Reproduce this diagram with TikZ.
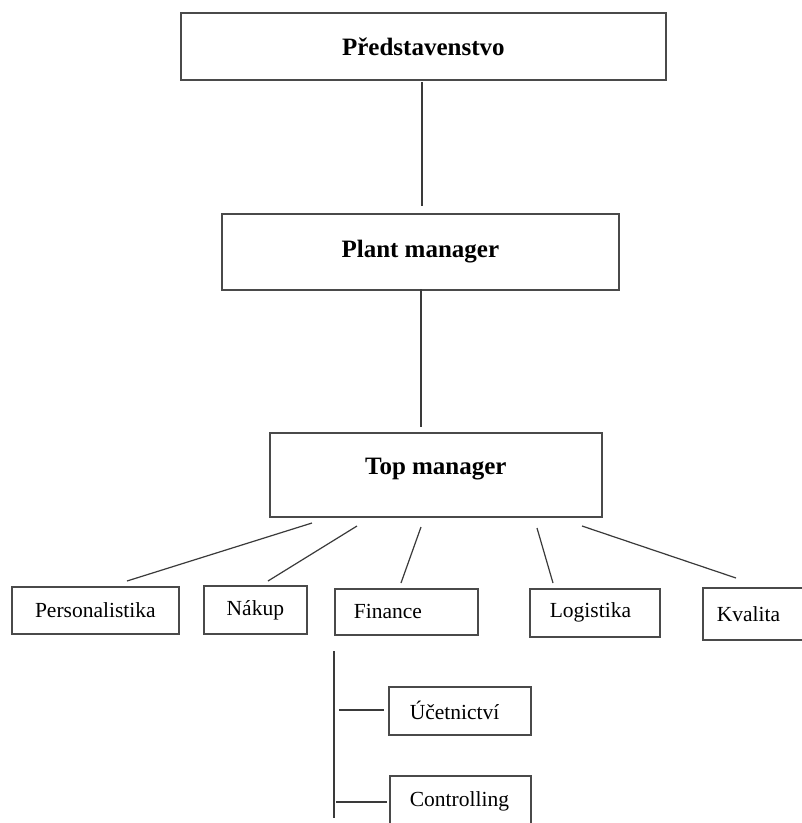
\documentclass[tikz,border=0pt]{standalone}
\usepackage{fontspec}
\setmainfont{Liberation Serif}
\definecolor{boxc}{HTML}{4A4A4A}
\definecolor{linec}{HTML}{3A3A3A}
\tikzset{
  box/.style={draw=boxc, line width=1.7pt, rectangle, inner sep=0pt, anchor=north west, text=black},
  bigtxt/.style={font=\fontsize{25}{30}\selectfont\bfseries},
  smalltxt/.style={font=\fontsize{21.5}{26}\selectfont},
  conn/.style={draw=linec, line width=1.2pt}
}
\begin{document}
\begin{tikzpicture}[x=1pt,y=-1pt]
\useasboundingbox[fill=white] (0,0) rectangle (802,823);
% top boxes
\node[box,bigtxt,minimum width=485pt,minimum height=67pt] (pred) at (180,12) {Představenstvo};
\node[box,bigtxt,minimum width=397pt,minimum height=76pt] (plant) at (221,213) {Plant manager};
\node[box,bigtxt,minimum width=332pt,minimum height=84pt,text depth=18pt] (top) at (269,432) {Top manager};
% second level
\node[box,smalltxt,minimum width=167pt,minimum height=47pt] (pers) at (11,586) {Personalistika};
\node[box,smalltxt,minimum width=103pt,minimum height=48pt] (nak) at (203,585) {Nákup};
\node[box,smalltxt,inner xsep=19pt,text width=105pt,align=left,minimum height=46pt] (fin) at (334,588) {Finance};
\node[box,smalltxt,inner xsep=20pt,text width=90pt,align=left,minimum height=48pt] (log) at (529,588) {Logistika};
\node[box,smalltxt,inner xsep=14pt,text width=76pt,align=left,minimum height=52pt] (kval) at (702,587) {Kvalita};
% third level
\node[box,smalltxt,inner xsep=21pt,text width=100pt,align=left,minimum height=48pt] (ucet) at (388,686) {Účetnictví};
\node[box,smalltxt,inner xsep=20pt,text width=101pt,align=left,minimum height=51pt] (contr) at (389,775) {Controlling};
% connector end points
\coordinate (a1) at (422,82);  \coordinate (a2) at (422,206);
\coordinate (b1) at (421,289); \coordinate (b2) at (421,427);
\coordinate (p1) at (312,523); \coordinate (p2) at (127,581);
\coordinate (n1) at (357,526); \coordinate (n2) at (268,581);
\coordinate (f1) at (421,527); \coordinate (f2) at (401,583);
\coordinate (l1) at (537,528); \coordinate (l2) at (553,583);
\coordinate (k1) at (582,526); \coordinate (k2) at (736,578);
\coordinate (v1) at (334,651); \coordinate (v2) at (334,818);
\coordinate (u1) at (339,710); \coordinate (u2) at (384,710);
\coordinate (c1) at (336,802); \coordinate (c2) at (387,802);
\draw[conn] (a1) -- (a2);
\draw[conn] (b1) -- (b2);
\draw[conn] (p1) -- (p2);
\draw[conn] (n1) -- (n2);
\draw[conn] (f1) -- (f2);
\draw[conn] (l1) -- (l2);
\draw[conn] (k1) -- (k2);
\draw[conn] (v1) -- (v2);
\draw[conn] (u1) -- (u2);
\draw[conn] (c1) -- (c2);
\end{tikzpicture}
\end{document}
